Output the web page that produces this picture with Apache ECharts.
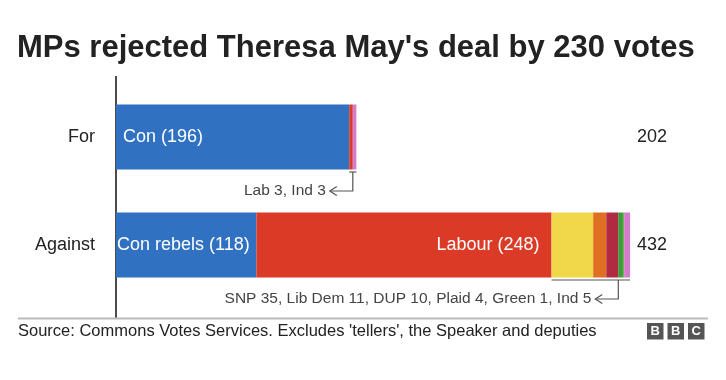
<!DOCTYPE html>
<html><head><meta charset="utf-8">
<script src="https://cdn.jsdelivr.net/npm/echarts@6/dist/echarts.min.js"></script>
<style>html,body{margin:0;padding:0;background:#fff}#c{width:726px;height:380px}</style>
</head><body><div id="c"></div>
<script>
// ---- data ----
const categories = ['For', 'Against'];
const con    = [196, 118];
const lab    = [3, 248];
const snp    = [0, 35];
const libDem = [0, 11];
const dup    = [0, 10];
const plaid  = [0, 4];
const green  = [0, 1];
const ind    = [3, 5];
const conLabels = ['Con (196)', 'Con rebels (118)'];
const labLabels = ['', 'Labour (248)'];
const notes = ['Lab 3, Ind 3', 'SNP 35, Lib Dem 11, DUP 10, Plaid 4, Green 1, Ind 5'];
const titleText = "MPs rejected Theresa May's deal by 230 votes";
const sourceText = "Source: Commons Votes Services. Excludes 'tellers', the Speaker and deputies";

const FONT = '"Liberation Sans", Arial, Helvetica, sans-serif';
const colors = {
  con: '#3071c2', lab: '#db3a27', snp: '#f0d84a', ld: '#e06f22',
  dup: '#b02a42', plaid: '#3f9a3f', green: '#6cb64f', ind: '#d47cc9'
};

const chart = echarts.init(document.getElementById('c'), null, {renderer: 'canvas'});

function series(name, values, color, extra) {
  return Object.assign({
    name, type: 'bar', stack: 'v', data: values, barWidth: 65,
    itemStyle: {color}, emphasis: {disabled: true}, silent: true
  }, extra || {});
}

const conData = con.map((v, i) => ({
  value: v,
  label: {show: true, position: 'insideLeft', distance: i === 0 ? 7 : 1,
          formatter: conLabels[i], color: '#fff', fontSize: 18, fontFamily: FONT}
}));
const labData = lab.map((v, i) => ({
  value: v,
  label: {show: !!labLabels[i], position: 'insideRight', distance: 12,
          formatter: labLabels[i], color: '#fff', fontSize: 18, fontFamily: FONT}
}));

chart.setOption({
  animation: false,
  grid: {left: 116, top: 83, width: 595, height: 216, containLabel: false},
  xAxis: {type: 'value', min: 0, max: 500, show: false},
  yAxis: {
    type: 'category', data: categories, inverse: true,
    axisLine: {show: false}, axisTick: {show: false},
    axisLabel: {fontSize: 18, color: '#222', margin: 21, fontFamily: FONT}
  },
  series: [
    series('Con', conData, colors.con),
    series('Lab', labData, colors.lab),
    series('SNP', snp, colors.snp),
    series('Lib Dem', libDem, colors.ld),
    series('DUP', dup, colors.dup),
    series('Plaid', plaid, colors.plaid),
    series('Green', green, colors.green),
    series('Ind', ind, colors.ind)
  ]
});

// ---- annotations derived from the data through the chart's scales ----
const allSeries = [con, lab, snp, libDem, dup, plaid, green, ind];
const totals = categories.map((c, i) => allSeries.reduce((s, a) => s + a[i], 0));
const smallStart = categories.map((c, i) => (i === 0 ? con[i] : con[i] + lab[i]));
const anchorFrac = [0.5, 0.85];
const elements = [];
const LINE = '#555';

categories.forEach((cat, i) => {
  const cy = chart.convertToPixel({yAxisIndex: 0}, cat);
  const x0 = chart.convertToPixel({xAxisIndex: 0}, smallStart[i]);
  const x1 = chart.convertToPixel({xAxisIndex: 0}, totals[i]);
  const bottom = cy + 32.5;
  const by = bottom + 2.5;
  const vx = x0 + (x1 - x0) * anchorFrac[i];
  const dy = bottom + 21.5;
  const tip = vx - 23;
  elements.push({type: 'polyline', silent: true,
    shape: {points: [[x0, by], [x1, by]]}, style: {stroke: LINE, lineWidth: 1.2, fill: null}});
  elements.push({type: 'polyline', silent: true,
    shape: {points: [[vx, by], [vx, dy], [tip, dy]]}, style: {stroke: LINE, lineWidth: 1.2, fill: null}});
  elements.push({type: 'polyline', silent: true,
    shape: {points: [[tip + 7, dy - 4.5], [tip, dy], [tip + 7, dy + 4.5]]}, style: {stroke: LINE, lineWidth: 1.2, fill: null}});
  elements.push({type: 'text', silent: true, x: tip - 4, y: dy,
    style: {text: notes[i], fill: '#444', fontSize: 15.5, fontFamily: FONT, align: 'right', verticalAlign: 'middle'}});
  elements.push({type: 'text', silent: true, x: 637, y: cy,
    style: {text: String(totals[i]), fill: '#222', fontSize: 18, fontFamily: FONT, align: 'left', verticalAlign: 'middle'}});
});

// axis line
elements.push({type: 'line', silent: true, shape: {x1: 116, y1: 76, x2: 116, y2: 318},
  style: {stroke: '#111', lineWidth: 1.5}});
// title
elements.push({type: 'text', silent: true, x: 17, y: 48,
  style: {text: titleText, fill: '#222', fontSize: 31, fontWeight: 'bold', fontFamily: FONT, verticalAlign: 'middle'}});
// footer
elements.push({type: 'line', silent: true, shape: {x1: 18, y1: 318.5, x2: 708, y2: 318.5},
  style: {stroke: '#bbb', lineWidth: 2}});
elements.push({type: 'text', silent: true, x: 18, y: 331,
  style: {text: sourceText, fill: '#222', fontSize: 16.5, fontFamily: FONT, verticalAlign: 'middle'}});
['B', 'B', 'C'].forEach((ch, k) => {
  const bx = 647 + k * 20.5;
  elements.push({type: 'rect', silent: true, shape: {x: bx, y: 323, width: 16.5, height: 16.5},
    style: {fill: '#555'}});
  elements.push({type: 'text', silent: true, x: bx + 8.25, y: 331.5,
    style: {text: ch, fill: '#fff', fontSize: 13, fontWeight: 'bold', fontFamily: FONT, align: 'center', verticalAlign: 'middle'}});
});

chart.setOption({graphic: {elements}});
</script>
</body></html>
